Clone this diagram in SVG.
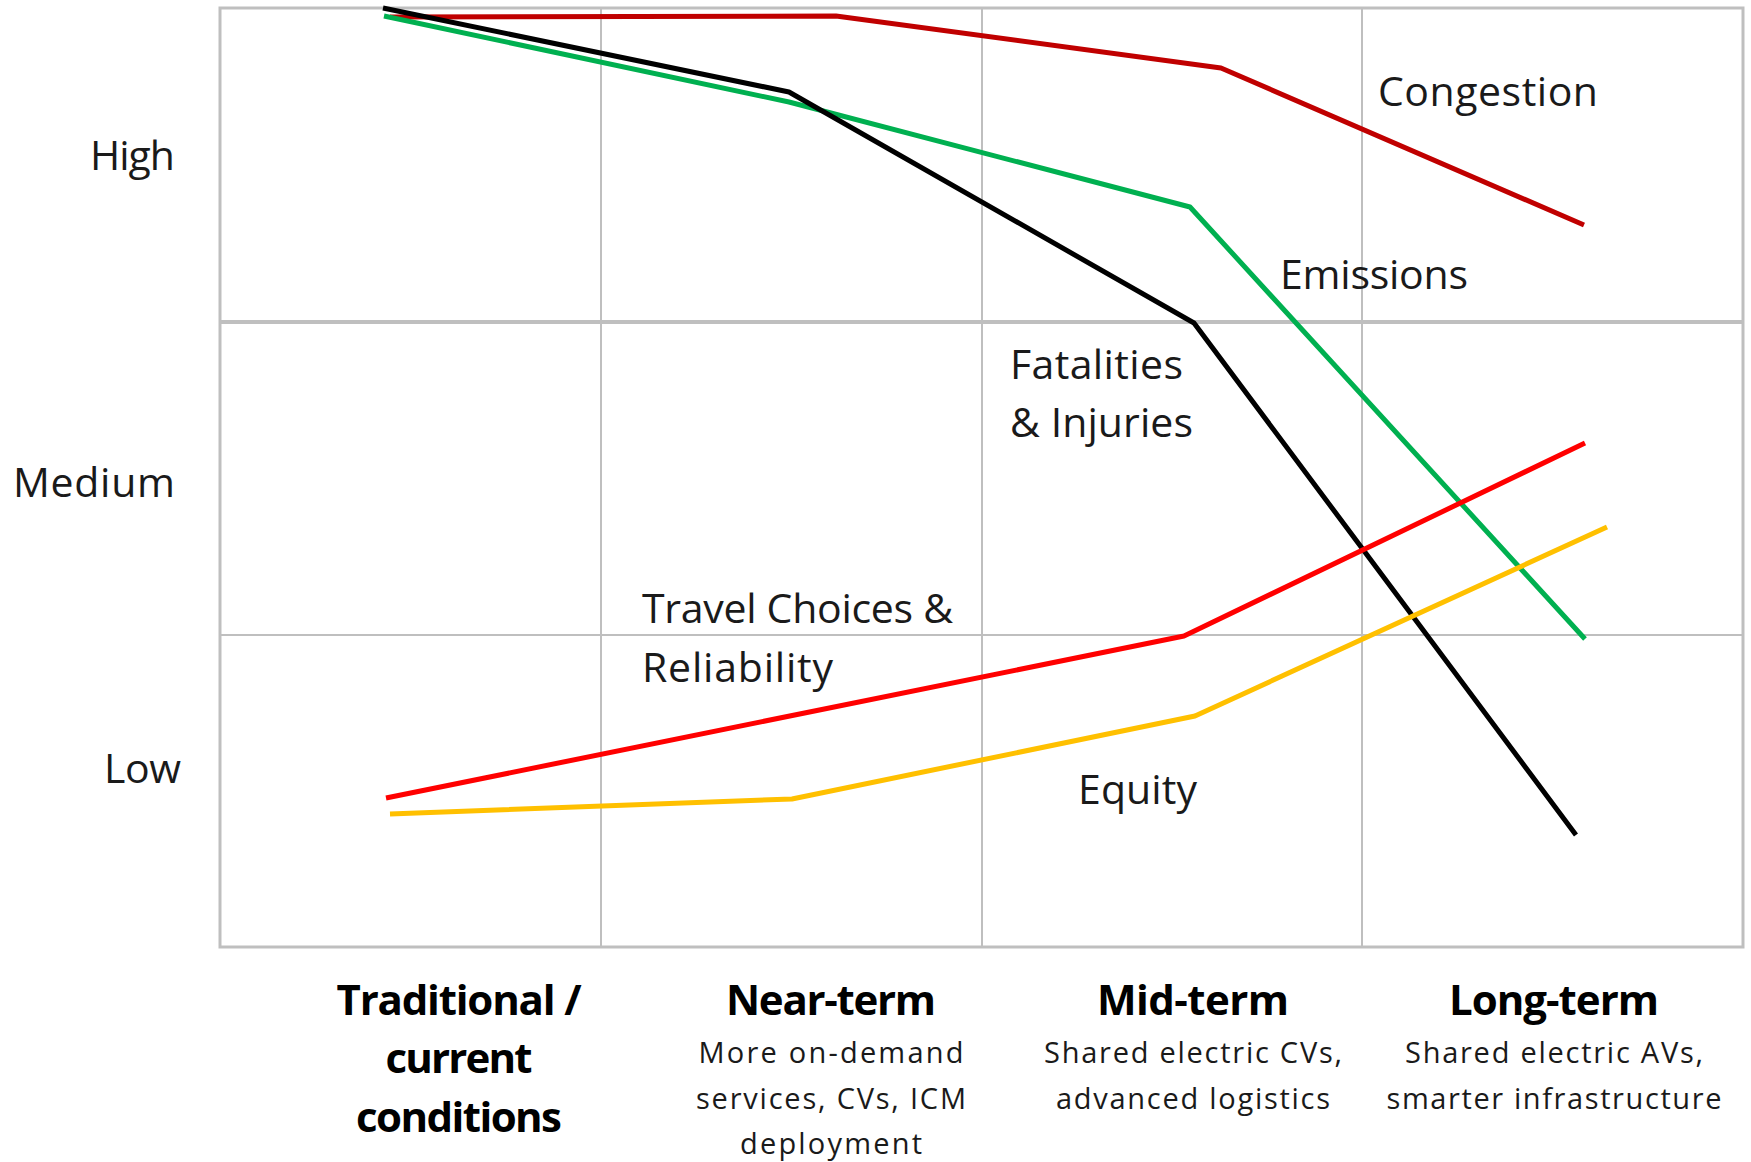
<svg xmlns="http://www.w3.org/2000/svg" width="1751" height="1162" viewBox="0 0 1751 1162">
<style>
.grid{stroke:#BFBFBF;stroke-width:2;fill:none}
.thick{stroke:#BFBFBF;stroke-width:4;fill:none}
.frame{stroke:#BFBFBF;stroke-width:3;fill:none}
.s{fill:none;stroke-width:5;stroke-linejoin:round;stroke-linecap:butt}
.lbl{font-family:"Open Sans","Noto Sans","Liberation Sans",sans-serif;font-size:41px;fill:#1a1a1a}
.hd{font-family:"Open Sans","Noto Sans","Liberation Sans",sans-serif;font-size:42px;font-weight:bold;fill:#000;text-anchor:middle}
.sm{font-family:"Open Sans","Noto Sans","Liberation Sans",sans-serif;font-size:29px;fill:#1a1a1a;text-anchor:middle}
</style>
<rect width="1751" height="1162" fill="#fff"/>
<g id="grid">
<rect class="frame" x="220" y="8" width="1523" height="939"/>
<line class="grid" x1="601" y1="8" x2="601" y2="947"/>
<line class="grid" x1="982" y1="8" x2="982" y2="947"/>
<line class="grid" x1="1362" y1="8" x2="1362" y2="947"/>
<line class="thick" x1="220" y1="322" x2="1743" y2="322"/>
<line class="grid" x1="220" y1="635" x2="1743" y2="635"/>
</g>
<g id="axis-labels">
<text class="lbl" x="90" y="170" textLength="85">High</text>
<text class="lbl" x="13" y="497" textLength="162">Medium</text>
<text class="lbl" x="104" y="783" textLength="77">Low</text>
</g>
<g id="connectors">
<polyline id="congestion-line" class="s" stroke="#C00000" points="390,17 836,16 1221,68 1584,225"/>
<polyline id="emissions-line" class="s" stroke="#00B050" points="384,16 789,102 1190,207 1585,639"/>
<polyline id="fatalities-line" class="s" stroke="#000000" points="383,8 789,92 1194,323 1576,835"/>
<polyline id="travel-line" class="s" stroke="#FF0000" points="386,798 1184,636 1585,443"/>
<polyline id="equity-line" class="s" stroke="#FFC000" points="390,814 792,799 1195,716 1607,527"/>
</g>
<g id="congestion"><text class="lbl" x="1378" y="106" textLength="220">Congestion</text></g>
<g id="emissions"><text class="lbl" x="1280" y="289" textLength="188">Emissions</text></g>
<g id="fatalities">
<text class="lbl" x="1010" y="379" textLength="173">Fatalities</text>
<text class="lbl" x="1010" y="437" textLength="183">&amp; Injuries</text>
</g>
<g id="travel">
<text class="lbl" x="642" y="623" textLength="311">Travel Choices &amp;</text>
<text class="lbl" x="642" y="682" textLength="191">Reliability</text>
</g>
<g id="equity"><text class="lbl" x="1078" y="804" textLength="119">Equity</text></g>
<g id="traditional">
<text class="hd" x="459" y="1015" textLength="245">Traditional /</text>
<text class="hd" x="459" y="1073" textLength="147">current</text>
<text class="hd" x="459" y="1132" textLength="206">conditions</text>
</g>
<g id="near-term">
<text class="hd" x="831" y="1015" textLength="210">Near-term</text>
<text class="sm" x="831" y="1063" textLength="265">More on-demand</text>
<text class="sm" x="831" y="1109" textLength="270">services, CVs, ICM</text>
<text class="sm" x="831" y="1154" textLength="182">deployment</text>
</g>
<g id="mid-term">
<text class="hd" x="1193" y="1015" textLength="192">Mid-term</text>
<text class="sm" x="1193" y="1063" textLength="298">Shared electric CVs,</text>
<text class="sm" x="1193" y="1109" textLength="274">advanced logistics</text>
</g>
<g id="long-term">
<text class="hd" x="1554" y="1015" textLength="210">Long-term</text>
<text class="sm" x="1554" y="1063" textLength="298">Shared electric AVs,</text>
<text class="sm" x="1554" y="1109" textLength="335">smarter infrastructure</text>
</g>
</svg>
